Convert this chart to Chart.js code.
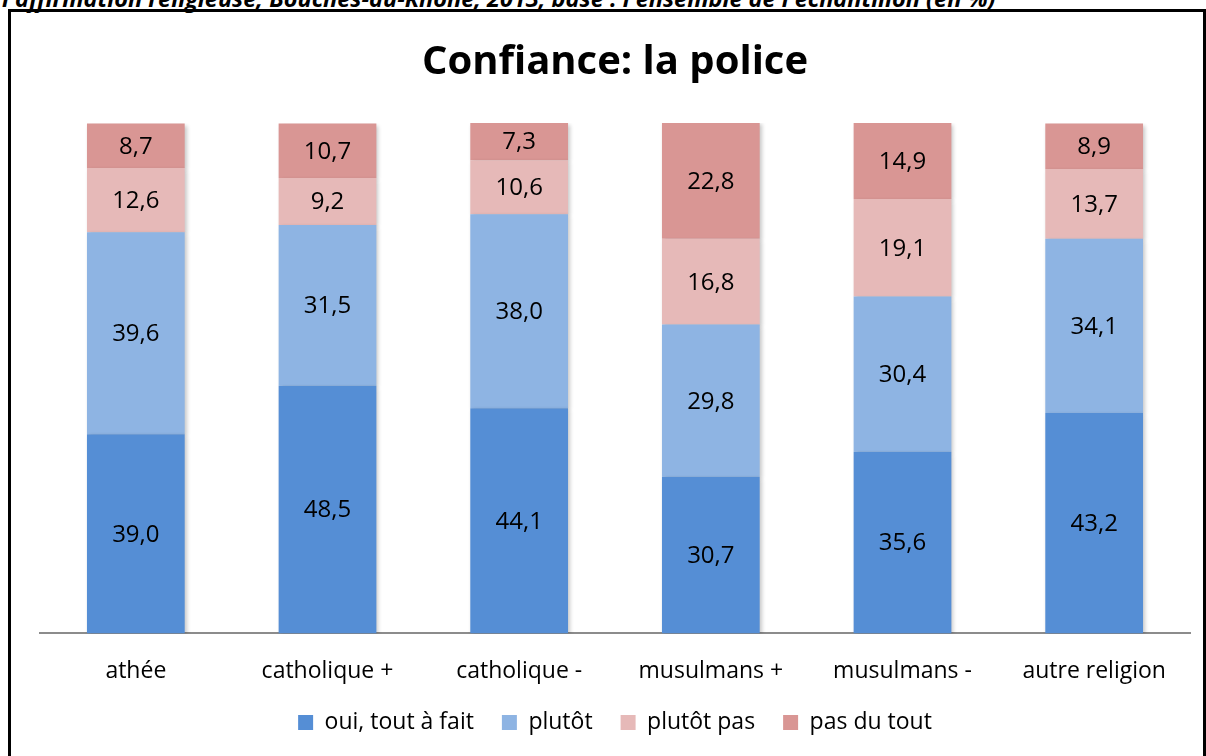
<!DOCTYPE html>
<html>
<head>
<meta charset="utf-8">
<script src="https://cdn.jsdelivr.net/npm/chart.js@4.4.0/dist/chart.umd.min.js"></script>
<style>
  body { margin: 0; background: #fff; overflow: hidden; }
  #caption {
    position: absolute; left: 2px; top: -18px;
    font: italic bold 23.5px "Open Sans", "Noto Sans", sans-serif; color: #000;
    white-space: nowrap;
  }
  #frame {
    position: absolute; left: 8px; top: 9px; width: 1192px; height: 800px;
    border: 3px solid #000;
  }
  #wrap { position: absolute; left: 0; top: 0; width: 1206px; height: 756px; }
</style>
</head>
<body>
<div id="caption">l'affirmation religieuse, Bouches-du-Rhône, 2013, base : l'ensemble de l'échantillon (en %)</div>
<div id="frame"></div>
<div id="wrap"><canvas id="myChart" width="1206" height="756"></canvas></div>
<script>
const categories = ['athée', 'catholique +', 'catholique -', 'musulmans +', 'musulmans -', 'autre religion'];
const ouiToutAFait = [39.0, 48.5, 44.1, 30.7, 35.6, 43.2];
const plutot = [39.6, 31.5, 38.0, 29.8, 30.4, 34.1];
const plutotPas = [12.6, 9.2, 10.6, 16.8, 19.1, 13.7];
const pasDuTout = [8.7, 10.7, 7.3, 22.8, 14.9, 8.9];

const font = '"Open Sans", "Noto Sans", sans-serif';

// ombre legere sous les barres, comme dans Excel
const shadowPlugin = {
  id: 'shadow',
  beforeDatasetsDraw(chart) {
    const ctx = chart.ctx;
    ctx.save();
    ctx.shadowColor = 'rgba(0,0,0,0.22)';
    ctx.shadowBlur = 4;
    ctx.shadowOffsetX = 2;
    ctx.shadowOffsetY = 2;
  },
  afterDatasetsDraw(chart) {
    chart.ctx.restore();
  }
};

// l'axe x est rapetisse dans afterFit, on rallonge sa zone pour ne pas couper les libelles
const unclipPlugin = {
  id: 'unclip',
  afterLayout(chart) {
    chart.scales.x.bottom += 30;
  }
};

// valeurs au milieu de chaque segment
const labelPlugin = {
  id: 'labels',
  afterDraw(chart) {
    const ctx = chart.ctx;
    ctx.save();
    ctx.font = '24px ' + font;
    ctx.fillStyle = '#000';
    ctx.textAlign = 'center';
    ctx.textBaseline = 'middle';
    chart.data.datasets.forEach((ds, i) => {
      chart.getDatasetMeta(i).data.forEach((bar, j) => {
        const y = (bar.y + bar.base) / 2;
        ctx.fillText(ds.data[j].toFixed(1).replace('.', ','), bar.x, y + 1);
      });
    });
    ctx.restore();
  }
};

new Chart(document.getElementById('myChart').getContext('2d'), {
  type: 'bar',
  data: {
    labels: categories,
    datasets: [
      { label: 'oui, tout à fait', data: ouiToutAFait, backgroundColor: '#558ED5' },
      { label: 'plutôt', data: plutot, backgroundColor: '#8EB4E3' },
      { label: 'plutôt pas', data: plutotPas, backgroundColor: '#E6B9B8' },
      { label: 'pas du tout', data: pasDuTout, backgroundColor: '#D99694' }
    ]
  },
  options: {
    responsive: false,
    animation: false,
    layout: { padding: { left: 40, right: 16, top: 35, bottom: 12 } },
    datasets: { bar: { categoryPercentage: 1, barPercentage: 0.51 } },
    scales: {
      x: {
        stacked: true,
        grid: { display: false },
        border: { display: true, color: '#8c8c8c', width: 2 },
        ticks: { color: '#000', font: { family: font, size: 23 }, padding: 16 },
        afterFit(scale) { scale.height -= 18; }
      },
      y: { stacked: true, display: false, min: 0, max: 100 }
    },
    plugins: {
      title: {
        display: true,
        text: 'Confiance: la police',
        color: '#000',
        font: { family: font, size: 40, weight: 'bold' },
        padding: { top: 4, bottom: 36 }
      },
      legend: {
        position: 'bottom',
        labels: {
          color: '#000',
          font: { family: font, size: 23 },
          boxWidth: 15, boxHeight: 15, padding: 28
        }
      },
      tooltip: { enabled: false }
    }
  },
  plugins: [shadowPlugin, unclipPlugin, labelPlugin]
});
</script>
</body>
</html>
